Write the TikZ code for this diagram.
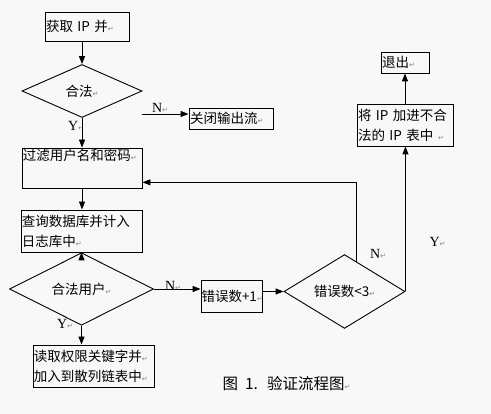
\documentclass[tikz,border=0pt]{standalone}
\usepackage{fontspec}
\setmainfont{Liberation Serif}
\newfontfamily\cjk{Noto Sans CJK SC}
\newfontfamily\markfont{DejaVu Sans}
\usepackage{tikz}
\usetikzlibrary{arrows.meta, shapes.geometric, calc}
\definecolor{paper}{RGB}{248,248,248}
\newcommand{\parmark}{{\markfont\color{gray}\fontsize{7}{7}\selectfont ↵}}
\tikzset{every picture/.style={x=1pt,y=-1pt,line width=0.9pt,>={Triangle[length=8pt,width=6pt]}}}
\tikzset{
  box/.style={draw, rectangle, inner sep=1pt, align=left, font=\cjk\fontsize{13.5}{20}\selectfont},
  choice/.style={draw, diamond, inner sep=0pt, font=\cjk\fontsize{13.5}{20}\selectfont},
  tag/.style={font=\fontsize{14}{14}\selectfont, inner sep=0pt}
}

\begin{document}
\begin{tikzpicture}
  \useasboundingbox (0,0) rectangle (491,414);
  \fill[paper] (0,0) rectangle (491,414);

  \node[box, text width=82pt, minimum height=29pt] (getip) at (87,26.5){获取 IP 并\parmark};
  \node[choice, minimum width=120pt, minimum height=53pt] (legal) at (82,91){合法\parmark};
  \node[box, text width=82pt, minimum height=21pt] (close) at (231,118.5){关闭输出流\parmark};
  \node[box, text width=118pt, text height=12pt, text depth=26pt] (filter) at (82,168){过滤用户名和密码\parmark};
  \node[box, text width=119pt, minimum height=42pt] (query) at (81.5,231){查询数据库并计入\\日志库中\parmark};
  \node[choice, minimum width=144pt, minimum height=52pt] (user) at (81.5,289){合法用户\parmark};
  \node[box, inner sep=0.5pt, text width=60pt, minimum height=32pt] (err) at (231.5,296){错误数+1\parmark};
  \node[choice, minimum width=121pt, minimum height=43pt] (count) at (344.5,291.5){错误数<3\parmark};
  \node[box, text width=94pt, minimum height=42pt] (ban) at (405,125){将 IP 加进不合\\法的 IP 表中 \parmark};
  \node[box, text width=46pt, minimum height=21pt] (quit) at (405,62.5){退出\parmark};
  \node[box, text width=119pt, minimum height=42pt] (read) at (93.5,366){读取权限关键字并\parmark\\加入到散列链表中\parmark};
  \node[font=\cjk\fontsize{15.5}{16}\selectfont, inner sep=0pt] (cap) at (286.5,384){图\hspace{7pt}1.\hspace{9pt}验证流程图\parmark};

  \node[tag] (ly) at (76,126){Y\parmark};
  \node[tag] (ln) at (160,108){N\parmark};
  \node[tag] (un) at (173,286){N\parmark};
  \node[tag] (uy) at (65,324){Y\parmark};
  \node[tag] (kn) at (378,254){N\parmark};
  \node[tag] (ky) at (437.5,242){Y\parmark};

  \coordinate (nout) at (142,114);
  \coordinate (back) at ($(count.north)!0.2!(count.east)$);
  \coordinate (fin) at ($(filter.south east)!0.15!(filter.north east)$);

  \draw[->](legal.north |- getip.south)--(legal.north);
  \draw[->](legal.south)--(filter.north);
  \draw[->](nout)--(nout -| close.west);
  \draw[->](filter.south)--(filter.south |- query.north);
  \draw[->](query.south)--(user.north);
  \draw[->](user.south)--(user.south |- read.north);
  \draw[->](user.east)--(user.east -| err.west);
  \draw[->](count.west -| err.east)--(count.west);
  \draw[->](count.east)--(count.east |- ban.south);
  \draw[->](ban.north)--(quit.south);
  \draw[->](back) |- (fin);
\end{tikzpicture}
\end{document}
